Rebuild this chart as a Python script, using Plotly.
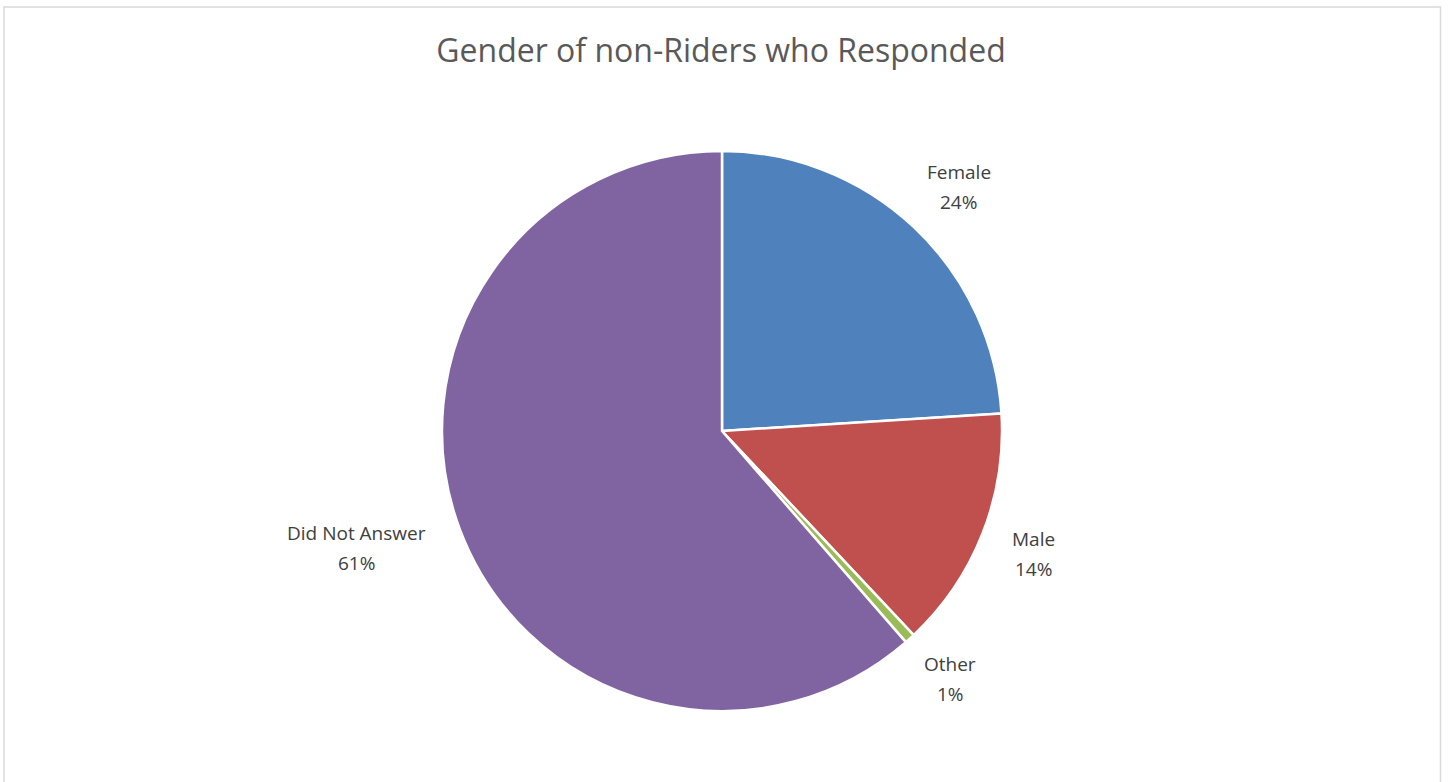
import math
import plotly.graph_objects as go

# ---- data ----
categories = ["Female", "Male", "Other", "Did Not Answer"]
values = [24.0, 14.0, 0.6, 61.4]
colors = ["#4F81BD", "#C0504D", "#9BBB59", "#8064A2"]
title_text = "Gender of non-Riders who Responded"

W, H = 1448, 782
# pie placement (pixels)
cx, cy, R = 722, 431, 280

fig = go.Figure()
fig.add_trace(go.Pie(
    labels=categories,
    values=values,
    sort=False,
    direction="clockwise",
    rotation=0,
    marker=dict(colors=colors, line=dict(color="white", width=2.5)),
    textinfo="none",
    hoverinfo="label+percent",
    showlegend=False,
    domain=dict(x=[(cx - R) / W, (cx + R) / W], y=[1 - (cy + R) / H, 1 - (cy - R) / H]),
))

# data labels placed outside each slice, derived from slice mid-angles
total = sum(values)
start = 90.0
annotations = []
label_font = dict(family="Open Sans, Lato, sans-serif", size=19, color="#404040")
for cat, v in zip(categories, values):
    span = 360.0 * v / total
    mid = math.radians(start - span / 2)
    start -= span
    pct = round(100 * v / total)
    dx, dy = math.cos(mid), math.sin(mid)
    hw = 5.5 * max(len(cat), 3) + 3
    hh = 25
    px = cx + (R + 30) * dx + hw * dx
    py = cy - (R + 30) * dy - hh * dy
    for txt, off in ((cat, -15), (f"{pct}%", 15)):
        annotations.append(dict(
            x=px / W, y=1 - (py + off) / H, xref="paper", yref="paper",
            text=txt, showarrow=False,
            xanchor="center", yanchor="middle", align="center",
            font=label_font,
        ))

fig.update_layout(
    width=W, height=H,
    margin=dict(l=0, r=0, t=0, b=0),
    paper_bgcolor="white",
    plot_bgcolor="white",
    title=dict(text=title_text, x=721 / W, xanchor="center", y=1 - 51 / H, yanchor="middle",
               font=dict(family="Open Sans, Lato, sans-serif", size=32, color="#595959")),
    annotations=annotations,
    shapes=[dict(type="rect", xref="paper", yref="paper",
                 x0=4 / W, x1=1440.5 / W, y0=-0.02, y1=1 - 7 / H,
                 line=dict(color="#D9D9D9", width=1.5), fillcolor="rgba(0,0,0,0)")],
)

fig.write_html("out.html", config={"displayModeBar": False},
               post_script="document.body.style.margin='0';document.body.style.overflow='hidden';")
